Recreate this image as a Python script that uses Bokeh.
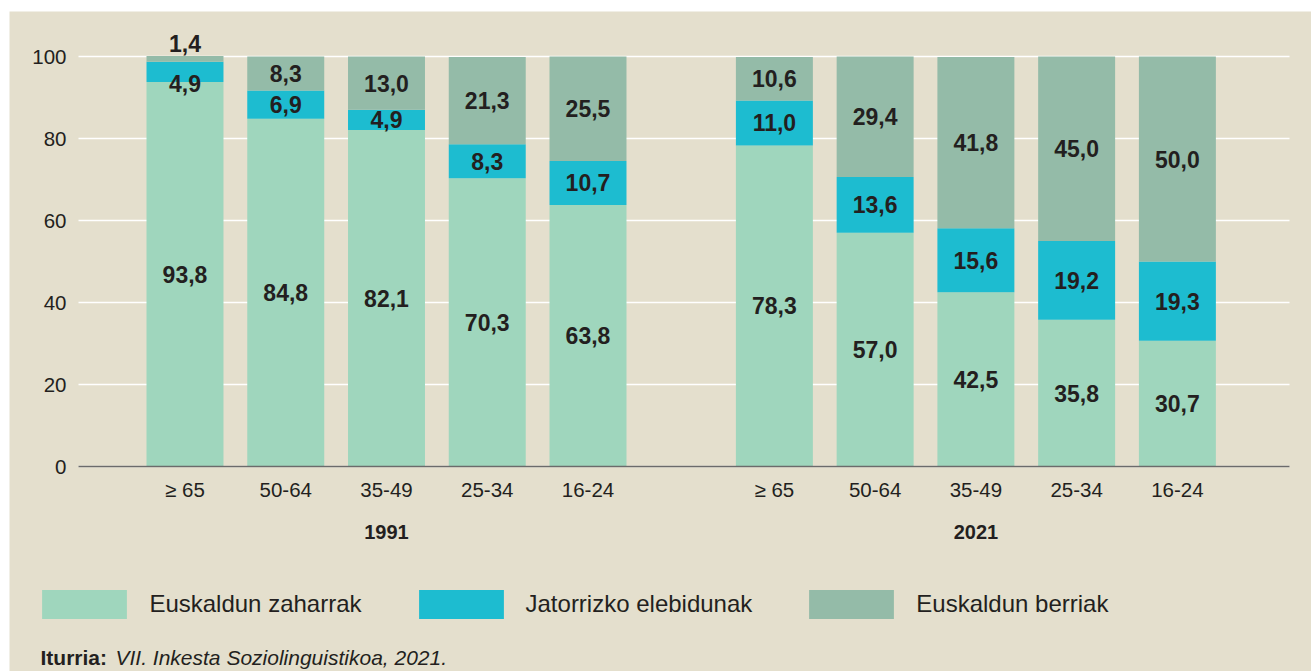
from bokeh.plotting import figure
from bokeh.models import (ColumnDataSource, FixedTicker, LinearAxis, Range1d,
                          Legend, LegendItem, Label, Grid)
from bokeh.core.properties import value
from bokeh.embed import file_html
from bokeh.resources import INLINE

# ---------------- data ----------------
years = ["1991", "2021"]
ages = ["≥ 65", "50-64", "35-49", "25-34", "16-24"]
series = ["Euskaldun zaharrak", "Jatorrizko elebidunak", "Euskaldun berriak"]

zaharrak_1991 = [93.8, 84.8, 82.1, 70.3, 63.8]
elebidunak_1991 = [4.9, 6.9, 4.9, 8.3, 10.7]
berriak_1991 = [1.4, 8.3, 13.0, 21.3, 25.5]

zaharrak_2021 = [78.3, 57.0, 42.5, 35.8, 30.7]
elebidunak_2021 = [11.0, 13.6, 15.6, 19.2, 19.3]
berriak_2021 = [10.6, 29.4, 41.8, 45.0, 50.0]

y_ticks = [0, 20, 40, 60, 80, 100]
source_note_bold = "Iturria:"
source_note_italic = "VII. Inkesta Soziolinguistikoa, 2021."

# ---------------- styling ----------------
FONT = "Liberation Sans"
BG = "#e4dfcd"
TXT = "#231f20"
colors = ["#9fd6bd", "#1dbcd0", "#94bba8"]
group_step = 5.85
bar_width = 0.764
axis_left = -1.057     # where the plotting area starts (data units)
axis_right = 10.963    # where the plotting area ends (data units)

xs = [g * group_step + i for g in range(len(years)) for i in range(len(ages))]
keys = ["z", "j", "b"]
data = dict(
    x=xs,
    z=zaharrak_1991 + zaharrak_2021,
    j=elebidunak_1991 + elebidunak_2021,
    b=berriak_1991 + berriak_2021,
)
src = ColumnDataSource(data)

p = figure(width=1311, height=671, output_backend="svg", toolbar_location=None,
           x_range=Range1d(-1.7419, 11.1811), y_range=Range1d(-50.0, 110.98),
           x_axis_type=None, y_axis_type=None,
           min_border_left=9, min_border_top=11, min_border_right=0, min_border_bottom=0)
p.background_fill_color = BG
p.border_fill_color = "white"
p.outline_line_color = None

renderers = p.vbar_stack(keys, x="x", width=bar_width, color=colors,
                         line_color=None, source=src)

# value labels
lx, ly, lt, ldy = [], [], [], []
nudges = {(0, 1): 12, (0, 2): -15}
for bi in range(len(xs)):
    bottom = 0.0
    for si, k in enumerate(keys):
        v = data[k][bi]
        lx.append(xs[bi])
        ly.append(bottom + v / 2)
        lt.append(f"{v:.1f}".replace(".", ","))
        ldy.append(nudges.get((bi, si), 0))
        bottom += v
lsrc = ColumnDataSource(dict(x=lx, y=ly, t=lt, dy=ldy))
p.text(x="x", y="y", text="t", y_offset="dy", source=lsrc,
       text_font=value(FONT), text_font_style="bold", text_font_size="23px",
       text_align="center", text_baseline="middle", text_color=TXT)

# y axis (fixed at the left edge of the plotting area)
ay = LinearAxis(ticker=FixedTicker(ticks=y_ticks), fixed_location=axis_left,
                bounds=(0, 100))
ay.axis_line_color = None
ay.major_tick_line_color = None
ay.minor_tick_line_color = None
ay.major_tick_out = 0
ay.major_tick_in = 0
ay.major_label_text_font = FONT
ay.major_label_text_font_size = "20.5px"
ay.major_label_text_color = TXT
ay.major_label_standoff = 12
p.add_layout(ay, "left")

# x axis: ages
ax = LinearAxis(ticker=FixedTicker(ticks=xs), fixed_location=0,
                bounds=(axis_left, axis_right),
                major_label_overrides={x: ages[i % len(ages)] for i, x in enumerate(xs)})
ax.axis_line_color = "#6b6b6b"
ax.axis_line_width = 1.5
ax.major_tick_line_color = None
ax.minor_tick_line_color = None
ax.major_tick_out = 0
ax.major_tick_in = 0
ax.major_label_text_font = FONT
ax.major_label_text_font_size = "20.5px"
ax.major_label_text_color = TXT
ax.major_label_standoff = 11
p.add_layout(ax, "below")

# x axis: years
centers = [xs[2], xs[7]]
gx = LinearAxis(ticker=FixedTicker(ticks=centers), fixed_location=0,
                major_label_overrides={c: years[i] for i, c in enumerate(centers)})
gx.axis_line_color = None
gx.major_tick_line_color = None
gx.minor_tick_line_color = None
gx.major_tick_out = 0
gx.major_tick_in = 0
gx.major_label_text_font = FONT
gx.major_label_text_font_style = "bold"
gx.major_label_text_font_size = "20px"
gx.major_label_text_color = TXT
gx.major_label_standoff = 58
p.add_layout(gx, "below")

g = Grid(dimension=1, ticker=FixedTicker(ticks=y_ticks), grid_line_color="white",
         grid_line_width=1.5, bounds=(0, 100), cross_bounds=(axis_left, axis_right))
p.add_layout(g)

legend = Legend(items=[LegendItem(label=s, renderers=[r]) for s, r in zip(series, renderers)],
                location=(22.4, 49.5), orientation="horizontal",
                glyph_width=106, glyph_height=36, label_height=36,
                label_standoff=12, spacing=46, padding=0, margin=0,
                border_line_color=None, background_fill_alpha=0,
                label_text_font=FONT, label_text_font_size="24px",
                label_text_color=TXT)
p.add_layout(legend)

p.add_layout(Label(x=31, y=14, x_units="screen", y_units="screen",
                   text=source_note_bold, text_font=FONT, text_font_style="bold",
                   text_font_size="21px", text_color=TXT, text_baseline="middle"))
p.add_layout(Label(x=106, y=14, x_units="screen", y_units="screen",
                   text=source_note_italic, text_font=FONT, text_font_style="italic",
                   text_font_size="21px", text_color=TXT, text_baseline="middle"))

open("out.html", "w").write(file_html(p, INLINE))
